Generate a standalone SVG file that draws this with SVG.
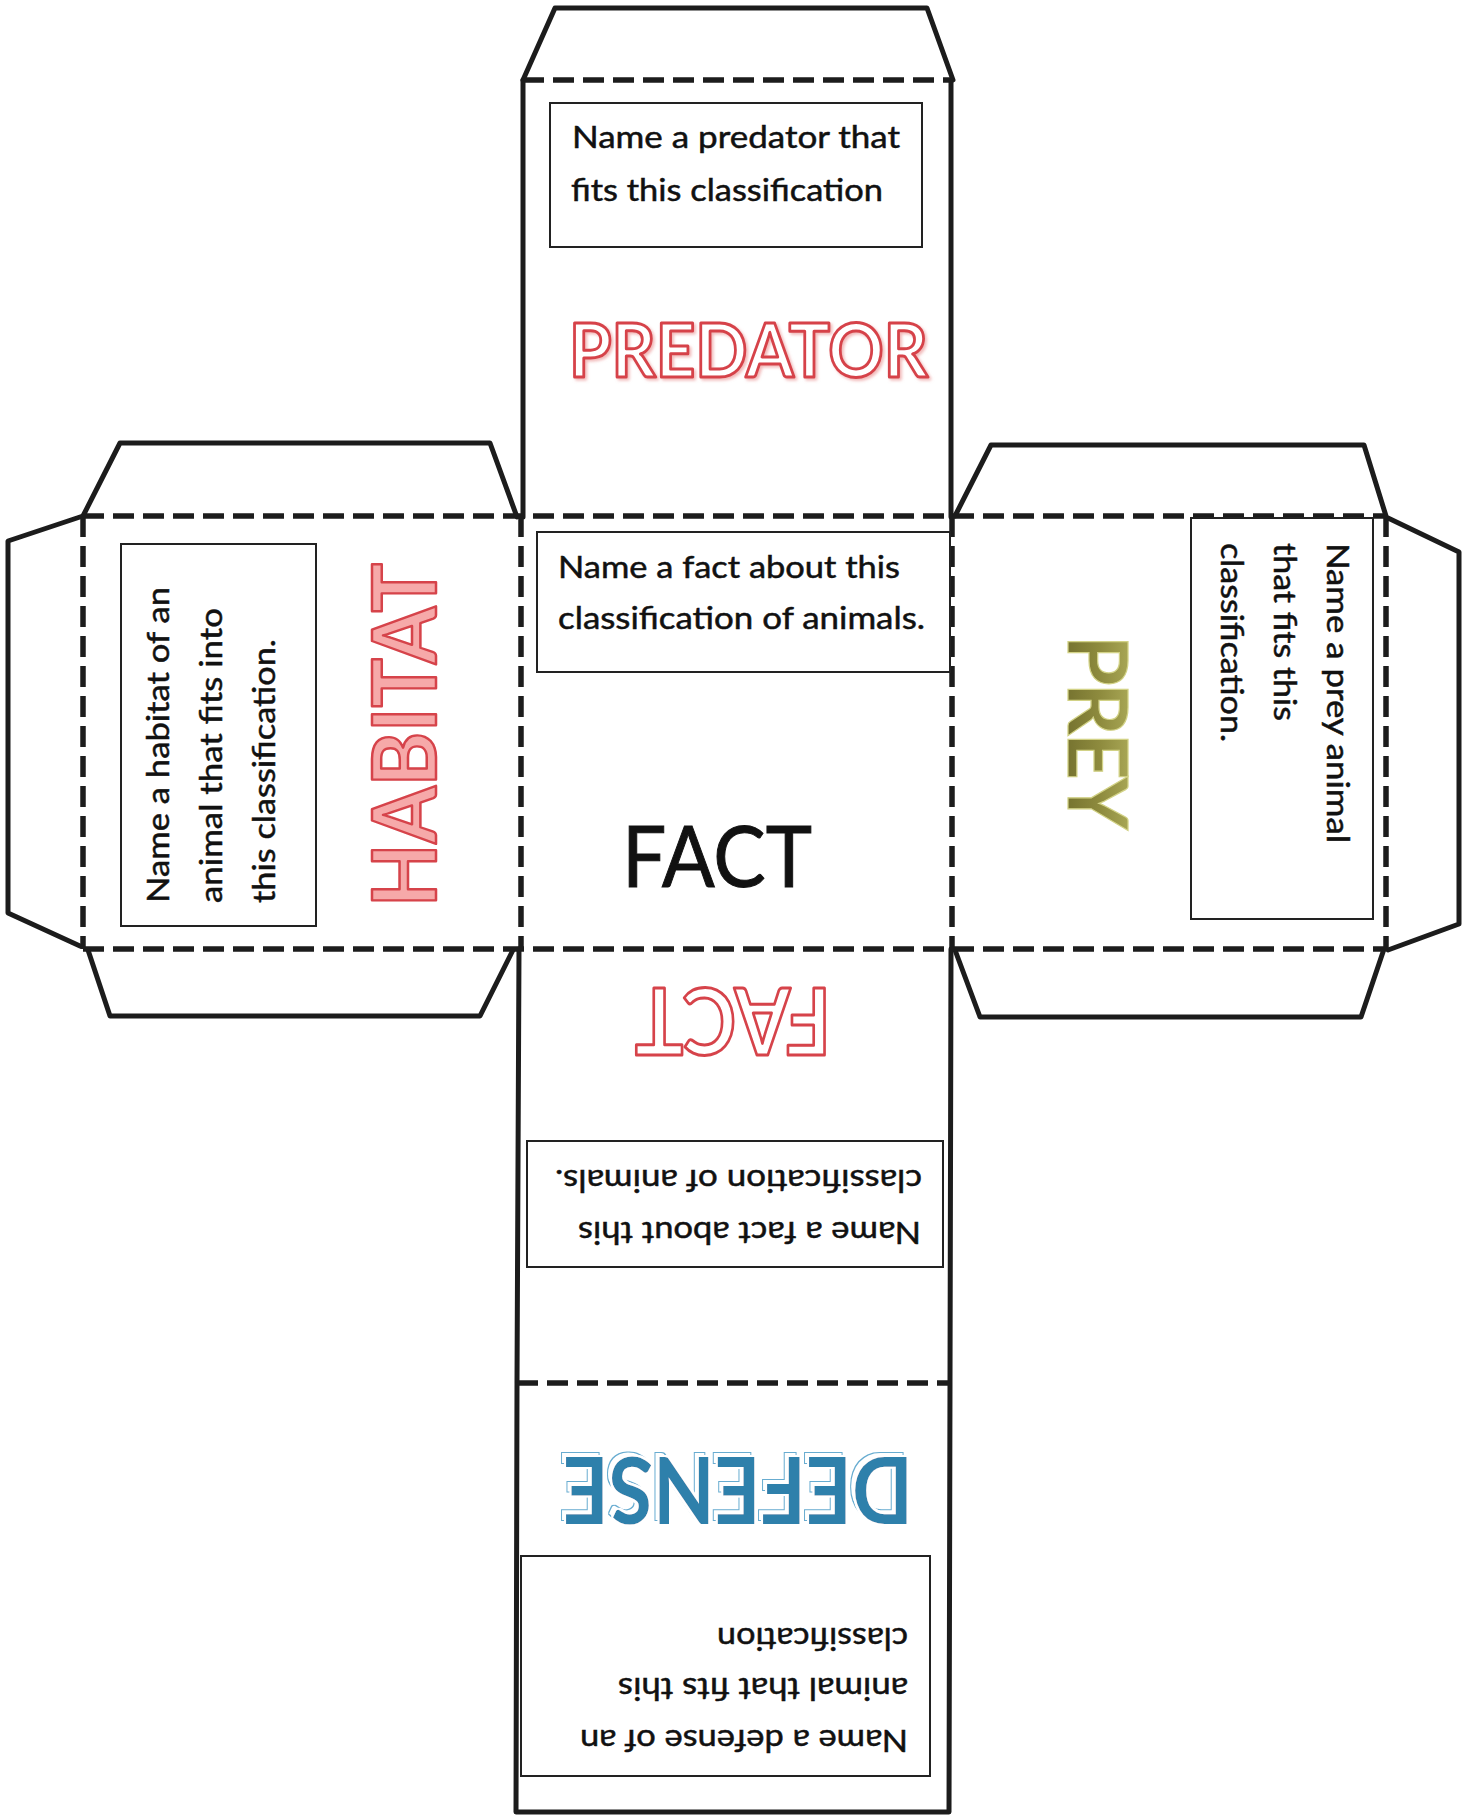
<svg xmlns="http://www.w3.org/2000/svg" width="1470" height="1815" viewBox="0 0 1470 1815">
<defs>
<style>
.cut{fill:none;stroke:#1c1c1c;stroke-width:5;stroke-linejoin:round;stroke-linecap:round}
.fold{fill:none;stroke:#1c1c1c;stroke-width:5.5;stroke-dasharray:21 9}
.box{fill:#fff;stroke:#222;stroke-width:2}
.t{font-family:Lato,"Liberation Sans",sans-serif;font-size:31px;fill:#111;stroke:#111;stroke-width:0.5}
.big{font-family:Lato,"Liberation Sans",sans-serif;font-weight:700}
.redout{fill:#fff;stroke:#d6434a;stroke-width:3;stroke-linejoin:round}
</style>
<linearGradient id="gold" x1="0" y1="0" x2="0" y2="1">
<stop offset="0" stop-color="#b9b864"/>
<stop offset="0.5" stop-color="#8e8b3e"/>
<stop offset="1" stop-color="#6b6829"/>
</linearGradient>
<filter id="dshadow" x="-10%" y="-30%" width="120%" height="160%">
<feMorphology in="SourceAlpha" operator="dilate" radius="1.4" result="d1"/>
<feComposite in="d1" in2="SourceAlpha" operator="out" result="ring"/>
<feOffset in="ring" dx="4.5" dy="4.5" result="ringoff"/>
<feFlood flood-color="#67acd0" result="lb"/>
<feComposite in="lb" in2="ringoff" operator="in" result="ringc"/>
<feMorphology in="SourceAlpha" operator="dilate" radius="2.2" result="gap"/>
<feFlood flood-color="#ffffff" result="wh"/>
<feComposite in="wh" in2="gap" operator="in" result="whgap"/>
<feMerge><feMergeNode in="ringc"/><feMergeNode in="whgap"/><feMergeNode in="SourceGraphic"/></feMerge>
</filter>
<filter id="soft" x="-5%" y="-20%" width="110%" height="140%">
<feGaussianBlur in="SourceAlpha" stdDeviation="1.5" result="b"/>
<feOffset in="b" dx="2" dy="2" result="bo"/>
<feFlood flood-color="#e88a8a" flood-opacity="0.6"/>
<feComposite in2="bo" operator="in" result="sh"/>
<feMerge><feMergeNode in="sh"/><feMergeNode in="SourceGraphic"/></feMerge>
</filter>
</defs>
<rect width="1470" height="1815" fill="#fff"/>

<g id="outline">
<polyline class="cut" points="523,80 555,8 927,8 953,80"/>
<line class="cut" x1="523" y1="80" x2="523" y2="517"/>
<line class="cut" x1="951" y1="80" x2="951" y2="517"/>
<polyline class="cut" points="83,516 120,443 490,443 517,517"/>
<polyline class="cut" points="83,516 8,541 8,913 80,946"/>
<polyline class="cut" points="88,950 110,1016 480,1016 513,950"/>
<polyline class="cut" points="955,516 991,445 1364,445 1386,516"/>
<polyline class="cut" points="1388,518 1459,552 1459,924 1388,950"/>
<polyline class="cut" points="955,950 980,1017 1361,1017 1383,952"/>
<polyline class="cut" points="519,949 517,1383 516,1812 949,1812 950,1383 951,949"/>
</g>

<g id="folds">
<line class="fold" x1="523" y1="80" x2="953" y2="80"/>
<line class="fold" x1="83" y1="516" x2="1386" y2="516"/>
<line class="fold" x1="83" y1="949" x2="1386" y2="949"/>
<line class="fold" x1="517" y1="1383" x2="950" y2="1383"/>
<line class="fold" x1="83" y1="516" x2="83" y2="949"/>
<line class="fold" x1="521" y1="516" x2="521" y2="949"/>
<line class="fold" x1="952" y1="516" x2="952" y2="949"/>
<line class="fold" x1="1386" y1="516" x2="1386" y2="949"/>
</g>

<g id="predator">
<rect class="box" x="550" y="103" width="372" height="144"/>
<text class="t" x="572" y="148" textLength="328" lengthAdjust="spacingAndGlyphs">Name a predator that</text>
<text class="t" x="571" y="201" textLength="312" lengthAdjust="spacingAndGlyphs">fits this classification</text>
<text class="big redout" x="569" y="377" font-size="74" textLength="359" lengthAdjust="spacingAndGlyphs" filter="url(#soft)">PREDATOR</text>
</g>

<g id="habitat">
<rect class="box" x="121" y="544" width="195" height="382"/>
<text class="t" transform="translate(169,903) rotate(-90)" textLength="316" lengthAdjust="spacingAndGlyphs">Name a habitat of an</text>
<text class="t" transform="translate(222,903) rotate(-90)" textLength="295" lengthAdjust="spacingAndGlyphs">animal that fits into</text>
<text class="t" transform="translate(275,903) rotate(-90)" textLength="264" lengthAdjust="spacingAndGlyphs">this classification.</text>
<text class="big" transform="translate(436,907) rotate(-90)" font-size="88" fill="#f6a9a9" stroke="#d6434a" stroke-width="2.5" stroke-linejoin="round" textLength="344" lengthAdjust="spacingAndGlyphs">HABITAT</text>
</g>

<g id="fact">
<rect class="box" x="537" y="532" width="413" height="140"/>
<text class="t" x="558" y="578" textLength="342" lengthAdjust="spacingAndGlyphs">Name a fact about this</text>
<text class="t" x="558" y="629" textLength="367" lengthAdjust="spacingAndGlyphs">classification of animals.</text>
<text x="622" y="887" font-family="Lato,'Liberation Sans',sans-serif" font-size="86" fill="#111" stroke="#111" stroke-width="1" textLength="190" lengthAdjust="spacingAndGlyphs">FACT</text>
</g>

<g id="prey">
<rect class="box" x="1191" y="518" width="182" height="401"/>
<text class="t" transform="translate(1327,543) rotate(90)" textLength="300" lengthAdjust="spacingAndGlyphs">Name a prey animal</text>
<text class="t" transform="translate(1274,543) rotate(90)" textLength="178" lengthAdjust="spacingAndGlyphs">that fits this</text>
<text class="t" transform="translate(1221,543) rotate(90)" textLength="199" lengthAdjust="spacingAndGlyphs">classification.</text>
<text class="big" transform="translate(1068,635) rotate(90)" font-size="82" fill="url(#gold)" stroke="#d2d286" stroke-width="1.2" textLength="195" lengthAdjust="spacing">PREY</text>
</g>

<g id="fact-back">
<text class="big redout" transform="translate(831,988) rotate(180)" font-size="91" textLength="196" lengthAdjust="spacingAndGlyphs">FACT</text>
<rect class="box" x="527" y="1141" width="416" height="126"/>
<text class="t" transform="translate(921,1222) rotate(180)" textLength="343" lengthAdjust="spacingAndGlyphs">Name a fact about this</text>
<text class="t" transform="translate(922,1170) rotate(180)" textLength="367" lengthAdjust="spacingAndGlyphs">classification of animals.</text>
</g>

<g id="defense">
<text class="big" transform="translate(913,1457) rotate(180)" font-size="91" fill="#2f80ab" filter="url(#dshadow)" textLength="350" lengthAdjust="spacingAndGlyphs">DEFENSE</text>
<rect class="box" x="521" y="1556" width="409" height="220"/>
<text class="t" transform="translate(908,1730) rotate(180)" textLength="328" lengthAdjust="spacingAndGlyphs">Name a defense of an</text>
<text class="t" transform="translate(908,1678) rotate(180)" textLength="290" lengthAdjust="spacingAndGlyphs">animal that fits this</text>
<text class="t" transform="translate(908,1628) rotate(180)" textLength="191" lengthAdjust="spacingAndGlyphs">classification</text>
</g>
</svg>
